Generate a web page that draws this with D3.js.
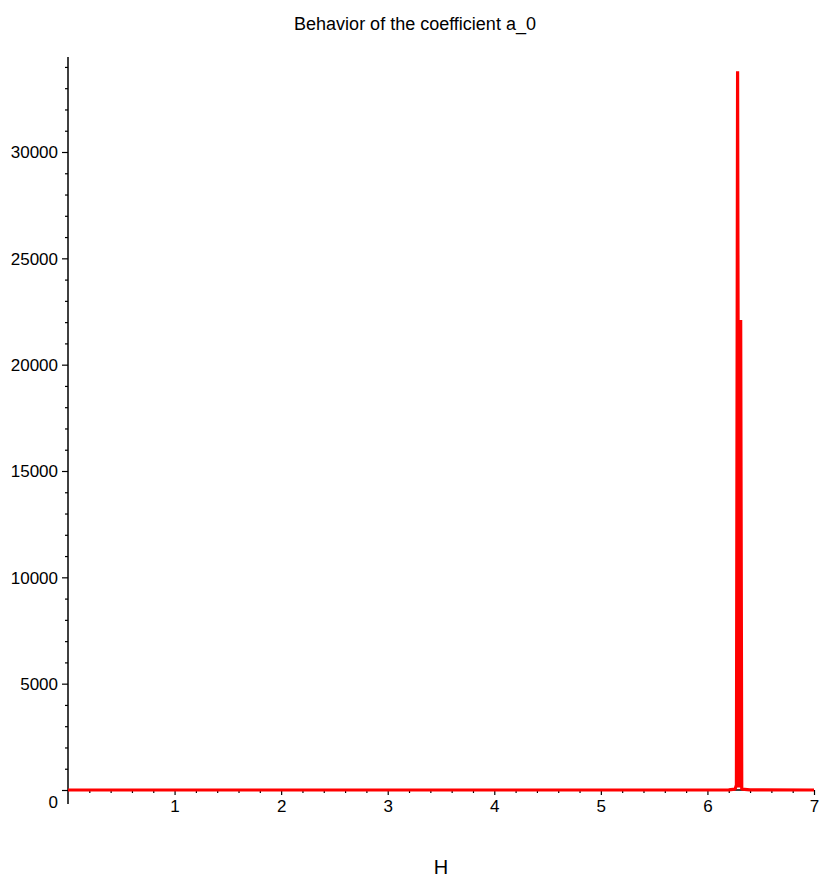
<!DOCTYPE html>
<html lang="en">
  <head>
    <meta charset="utf-8">
    <title>Behavior of the coefficient a_0</title>
    <style>
      body, html { margin:0; padding:0; background:#fff; }
      svg { display:block; }
      text { font-family: "Liberation Sans", Arial, sans-serif; fill:#000; }
    </style>
    <script src="https://cdn.jsdelivr.net/npm/d3@7"></script>
  </head>
  <body>
    <div id="chart"></div>
    <script>
var H  = [0, 1, 2, 3, 4, 5, 6, 6.2, 6.26, 6.272, 6.283, 6.296, 6.312, 6.322, 6.4, 7];
var a0 = [0, 0, 0, 0, 0, 0, 0, 5, 40, 240, 33800, 120, 22100, 40, 5, 0];

var xTicks      = [1, 2, 3, 4, 5, 6, 7];
var yTicks      = [0, 5000, 10000, 15000, 20000, 25000, 30000];
var title       = "Behavior of the coefficient a_0";
var xLabel      = "H";

var width = 831, height = 885;

var svg = d3.select('#chart').append('svg')
  .attr('width', width)
  .attr('height', height);

var x = d3.scaleLinear().domain([0, 7]).range([68, 814]);
var y = d3.scaleLinear().domain([0, 30000]).range([790, 152]);
var yTop = 34470;

// minor ticks
var xMinor = d3.range(0, 7.001, 0.2).filter(function(v){ return Math.abs(v - Math.round(v)) > 1e-6; });
var yMinor = d3.range(0, yTop, 1000).filter(function(v){ return v % 5000 !== 0; });

svg.append('g')
  .attr('transform', 'translate(0,790)')
  .call(d3.axisBottom(x).tickValues(xMinor).tickSize(3).tickFormat(''))
  .call(function(g){ g.select('.domain').remove(); });

svg.append('g')
  .attr('transform', 'translate(68,0)')
  .call(d3.axisLeft(y).tickValues(yMinor).tickSize(3).tickFormat(''))
  .call(function(g){ g.select('.domain').remove(); });

// major ticks + labels
var xAxis = svg.append('g')
  .attr('transform', 'translate(0,790)')
  .call(d3.axisBottom(x).tickValues(xTicks).tickSize(5).tickPadding(5).tickFormat(d3.format('d')))
  .call(function(g){ g.select('.domain').remove(); });
xAxis.selectAll('text')
  .attr('font-size', 17)
  .attr('font-family', '"Liberation Sans", Arial, sans-serif')
  .attr('fill', '#000');

var yAxis = svg.append('g')
  .attr('transform', 'translate(68,0)')
  .call(d3.axisLeft(y).tickValues(yTicks).tickSize(6).tickPadding(5).tickFormat(d3.format('d')))
  .call(function(g){ g.select('.domain').remove(); });
yAxis.selectAll('text')
  .attr('font-size', 17)
  .attr('font-family', '"Liberation Sans", Arial, sans-serif')
  .attr('fill', '#000')
  .attr('dy', function(d){ return d === 0 ? '1.05em' : '0.35em'; })
  .attr('x', -10);

svg.selectAll('.tick line').attr('stroke', '#000').attr('stroke-width', 1.2);

// axis lines
svg.append('line')
  .attr('x1', x(0)).attr('x2', x(0))
  .attr('y1', y(yTop)).attr('y2', 804)
  .attr('stroke', '#000').attr('stroke-width', 1.5);
svg.append('line')
  .attr('x1', x(0)).attr('x2', x(7))
  .attr('y1', y(0)).attr('y2', y(0))
  .attr('stroke', '#000').attr('stroke-width', 1.5);

// the curve
var line = d3.line()
  .x(function(d, i){ return x(H[i]); })
  .y(function(d){ return y(d); });

svg.append('path')
  .datum(a0)
  .attr('d', line)
  .attr('fill', 'none')
  .attr('stroke', '#ff0000')
  .attr('stroke-width', 3.2)
  .attr('stroke-linejoin', 'bevel');

// titles
svg.append('text')
  .attr('x', 415).attr('y', 30)
  .attr('text-anchor', 'middle')
  .attr('font-size', 18)
  .text(title);

svg.append('text')
  .attr('x', 441).attr('y', 874)
  .attr('text-anchor', 'middle')
  .attr('font-size', 20)
  .text(xLabel);
    </script>
  </body>
</html>
